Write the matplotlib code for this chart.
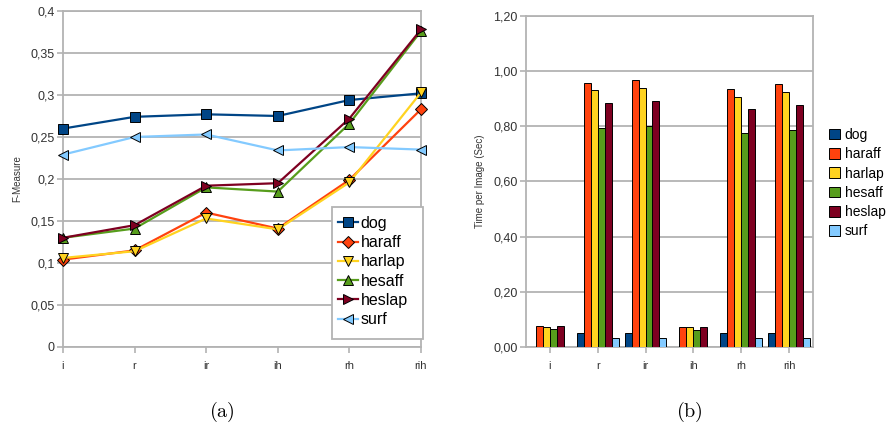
import numpy as np
import matplotlib.pyplot as plt
from matplotlib.patches import Rectangle
from matplotlib.ticker import FuncFormatter

plt.rcParams['font.family'] = ['Liberation Sans', 'DejaVu Sans']
plt.rcParams['mathtext.fontset'] = 'cm'

configs = ['i', 'r', 'ir', 'ih', 'rh', 'rih']
detectors = ['dog', 'haraff', 'harlap', 'hesaff', 'heslap', 'surf']

# F-measure per configuration
fmeasure = {
    'dog':    [0.260, 0.274, 0.277, 0.275, 0.294, 0.302],
    'haraff': [0.104, 0.115, 0.160, 0.141, 0.199, 0.283],
    'harlap': [0.106, 0.114, 0.153, 0.140, 0.196, 0.303],
    'hesaff': [0.130, 0.141, 0.190, 0.185, 0.266, 0.376],
    'heslap': [0.130, 0.145, 0.192, 0.195, 0.272, 0.378],
    'surf':   [0.229, 0.250, 0.253, 0.234, 0.238, 0.235],
}

# time per image in seconds
timing = {
    'dog':    [0.003, 0.051, 0.052, 0.003, 0.051, 0.052],
    'haraff': [0.077, 0.955, 0.966, 0.075, 0.934, 0.953],
    'harlap': [0.075, 0.931, 0.938, 0.075, 0.907, 0.923],
    'hesaff': [0.067, 0.793, 0.802, 0.063, 0.777, 0.785],
    'heslap': [0.077, 0.884, 0.891, 0.072, 0.861, 0.877],
    'surf':   [0.003, 0.033, 0.033, 0.003, 0.033, 0.033],
}

colors = ['#004586', '#ff420e', '#ffd320', '#579d1c', '#7e0021', '#83caff']
markers = ['s', 'D', 'v', '^', '>', '<']
msizes = [7.5, 6, 7.5, 7.5, 7.5, 7.5]
grid_gray = '#b3b3b3'
text_col = '#333333'

def style_axes(ax):
    for s in ax.spines.values():
        s.set_color(grid_gray)
        s.set_linewidth(1.3)
    ax.yaxis.grid(True, color=grid_gray, linewidth=1.3)
    ax.set_axisbelow(True)
    ax.tick_params(axis='both', colors=grid_gray, length=4, width=1.2)
    ax.tick_params(axis='y', labelsize=9, labelcolor=text_col, pad=2)
    ax.tick_params(axis='x', labelsize=8, labelcolor=text_col, pad=6)

fig = plt.figure(figsize=(8.91, 4.38), dpi=100)

# (a) F-measure lines
ax1 = fig.add_axes([0.0707, 0.2078, 0.4018, 0.7671])
x = np.arange(len(configs))
for name, c, m, ms in zip(detectors, colors, markers, msizes):
    ax1.plot(x, fmeasure[name], color=c, lw=1.6, marker=m, markersize=ms,
             markerfacecolor=c, markeredgecolor='black', markeredgewidth=0.7,
             label=name, clip_on=False, zorder=3)
ax1.set_xlim(0, 5)
ax1.set_ylim(0, 0.4)
ax1.set_yticks(np.arange(0, 0.401, 0.05))
ax1.yaxis.set_major_formatter(FuncFormatter(
    lambda v, p: ('%g' % round(v, 2)).replace('.', ',')))
ax1.set_xticks(x)
ax1.set_xticklabels(configs)
ax1.set_ylabel('F-Measure', fontsize=7, color=text_col, labelpad=6)
style_axes(ax1)

# legend box drawn separately so it can have extra room on the right
ax1.add_patch(Rectangle((0.751, 0.024), 0.255, 0.393, transform=ax1.transAxes,
                        facecolor='white', edgecolor=grid_gray, lw=1.3,
                        clip_on=False, zorder=4))
leg1 = ax1.legend(loc='upper left', bbox_to_anchor=(0.758, 0.400),
                  fontsize=11.5, frameon=False, handlelength=1.3,
                  handletextpad=0.15, labelspacing=0.27, borderpad=0.2,
                  borderaxespad=0)
leg1.set_zorder(5)

# (b) timing bars
ax2 = fig.add_axes([0.5903, 0.2070, 0.3221, 0.7573])
bw = 0.145
for i, (name, c) in enumerate(zip(detectors, colors)):
    ax2.bar(x + (i - 2.5) * bw, timing[name], width=bw, color=c,
            edgecolor='black', linewidth=0.7, label=name, zorder=3)
ax2.set_xlim(-0.5, 5.5)
ax2.set_ylim(0, 1.2)
ax2.set_yticks(np.arange(0, 1.201, 0.2))
ax2.yaxis.set_major_formatter(FuncFormatter(
    lambda v, p: ('%.2f' % v).replace('.', ',')))
ax2.set_xticks(x)
ax2.set_xticklabels(configs)
ax2.set_ylabel('Time per Image (Sec)', fontsize=7, color=text_col, labelpad=6)
style_axes(ax2)
leg2 = ax2.legend(loc='center left', bbox_to_anchor=(1.055, 0.495),
                  fontsize=10, frameon=False, handlelength=0.8,
                  handleheight=0.8, handletextpad=0.35, labelspacing=0.38,
                  borderpad=0, borderaxespad=0)

fig.text(0.249, 0.059, r'$\mathrm{(a)}$', fontsize=14.5, ha='center', va='center')
fig.text(0.774, 0.059, r'$\mathrm{(b)}$', fontsize=14.5, ha='center', va='center')

fig.savefig('out.png', dpi=100)
